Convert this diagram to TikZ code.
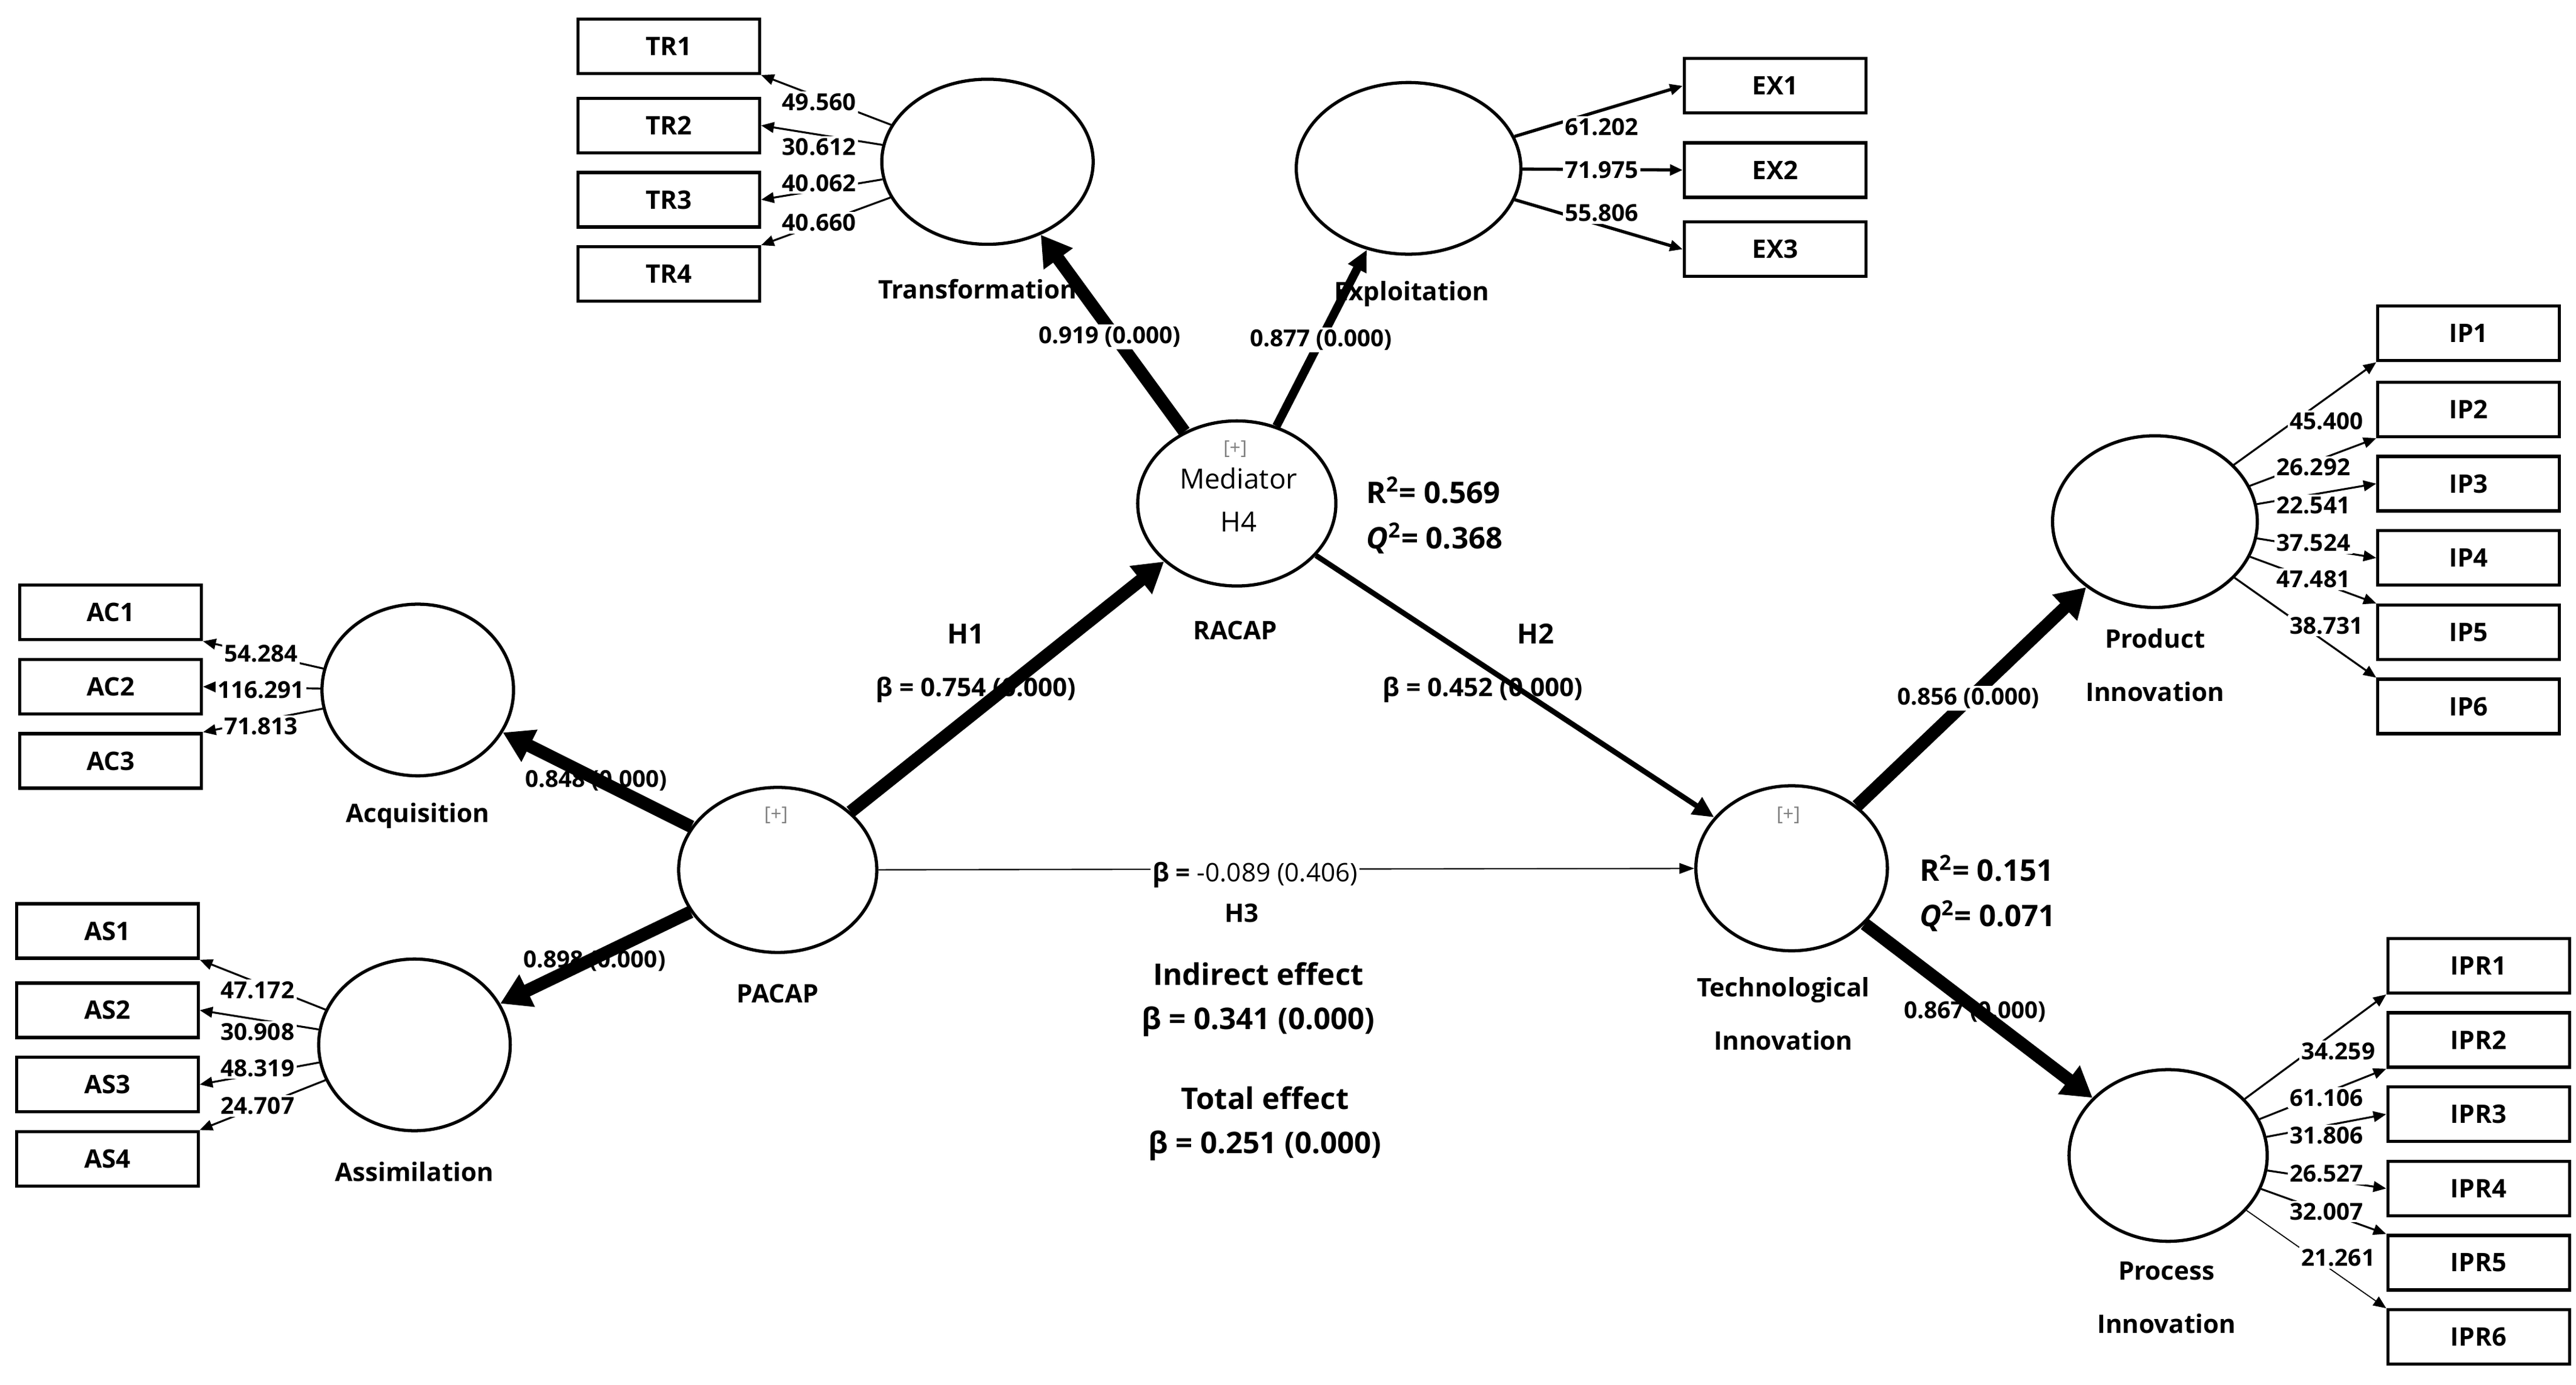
\documentclass[tikz,border=0pt]{standalone}
\usepackage{fontspec}
\setmainfont{Open Sans}
\usetikzlibrary{arrows.meta}
\begin{document}
\begin{tikzpicture}[x=0.02727cm,y=-0.02727cm,
  box/.style={draw,line width=1.5pt,minimum width=110*0.02727cm,minimum height=33*0.02727cm,inner sep=0pt,font=\fontsize{12}{14}\selectfont\bfseries},
  lat/.style={draw,ellipse,line width=1.5pt,inner sep=0pt},
  lab/.style={font=\fontsize{12}{14}\selectfont\bfseries,align=center},
  num/.style={font=\fontsize{11}{13}\selectfont\bfseries,inner sep=1pt},
  big/.style={font=\fontsize{14}{16}\selectfont\bfseries},
  ind/.style={line width=0.9pt,-{Triangle[length=6pt,width=5pt]}},
  thick/.style={line width=6pt,-{Triangle[length=14pt,width=16pt]}},
  mid/.style={line width=2.5pt,-{Triangle[length=10pt,width=9pt]}},
  thin/.style={line width=0.6pt,-{Triangle[length=7pt,width=5pt]}},
  plus/.style={font=\fontsize{9}{10}\selectfont\rmfamily,text=gray}]
\useasboundingbox (0,0) rectangle (1560,839);
\usetikzlibrary{shapes.geometric}
% boxes
\foreach \n/\y in {1/28,2/76,3/121,4/166}{\node[box] (tr\n) at (405,\y) {TR\n};}
\foreach \n/\y in {1/52,2/103,3/151}{\node[box] (ex\n) at (1075,\y) {EX\n};}
\foreach \n/\y in {1/371,2/416,3/461}{\node[box] (ac\n) at (67,\y) {AC\n};}
\foreach \n/\y in {1/564,2/612,3/657,4/702}{\node[box] (as\n) at (65,\y) {AS\n};}
\foreach \n/\y in {1/202,2/248,3/293,4/338,5/383,6/428}{\node[box] (ip\n) at (1495,\y) {IP\n};}
\foreach \n/\y in {1/585,2/630,3/675,4/720,5/765,6/810}{\node[box] (ipr\n) at (1501,\y) {IPR\n};}
% latent
\node[lat,minimum width=128*0.02727cm,minimum height=100*0.02727cm] (tra) at (598,98) {};
\node[lat,minimum width=136*0.02727cm,minimum height=104*0.02727cm] (exp) at (853,102) {};
\node[lat,minimum width=120*0.02727cm,minimum height=100*0.02727cm] (med) at (749,305) {};
\node[lat,minimum width=116*0.02727cm,minimum height=104*0.02727cm] (acq) at (253,418) {};
\node[lat,minimum width=116*0.02727cm,minimum height=104*0.02727cm] (asm) at (251,633) {};
\node[lat,minimum width=120*0.02727cm,minimum height=100*0.02727cm] (pac) at (471,527) {};
\node[lat,minimum width=116*0.02727cm,minimum height=100*0.02727cm] (tec) at (1085,526) {};
\node[lat,minimum width=124*0.02727cm,minimum height=104*0.02727cm] (pro) at (1305,316) {};
\node[lat,minimum width=120*0.02727cm,minimum height=104*0.02727cm] (prc) at (1313,700) {};
% latent labels
\node[lab] (ltra) at (592,175) {Transformation};
\node[lab] (lexp) at (855,178) {Exploitation};
\node[plus] (pm) at (748,272) {[+]};
\node[font=\fontsize{13}{15}\selectfont] (mtx) at (750,290) {Mediator};
\node[font=\fontsize{13}{15}\selectfont] (h4) at (750,316) {H4};
\node[lab] (lrac) at (748,382) {RACAP};
\node[lab] (lacq) at (253,494) {Acquisition};
\node[lab] (lasm) at (251,710) {Assimilation};
\node[plus] (pp) at (470,494) {[+]};
\node[lab] (lpac) at (471,602) {PACAP};
\node[plus] (pt) at (1083,494) {[+]};
\node[lab,font=\fontsize{12}{25}\selectfont\bfseries] (ltec) at (1080,614) {Technological\\Innovation};
\node[lab,font=\fontsize{12}{25}\selectfont\bfseries] (lpro) at (1305,403) {Product\\Innovation};
\node[lab,font=\fontsize{12}{25}\selectfont\bfseries] (lprc) at (1312,786) {Process\\Innovation};
\node[big,anchor=west] (r1) at (823,297) {R\textsuperscript{2}= 0.569};
\node[big,anchor=west] (q1) at (823,326) {\textit{Q}\textsuperscript{2}= 0.368};
\node[big,anchor=west] (r2) at (1158,526) {R\textsuperscript{2}= 0.151};
\node[big,anchor=west] (q2) at (1158,555) {\textit{Q}\textsuperscript{2}= 0.071};
% structural paths
\draw[thin] (pac) -- (tec);
\draw[thick] (med) -- (tra);
\draw[mid,line width=4pt] (med) -- (exp);
\draw[thick] (pac) -- (med);
\draw[mid] (med) -- (tec);
\draw[thick] (pac) -- (acq);
\draw[thick] (pac) -- (asm);
\draw[thick] (tec) -- (pro);
\draw[thick] (tec) -- (prc);
\node[num,fill=white] (l1) at (672,204) {0.919 (0.000)};
\node[num,fill=white] (l2) at (800,206) {0.877 (0.000)};
\node[big,font=\fontsize{13}{15}\selectfont\bfseries] (h1) at (585,384) {H1};
\node[num,font=\fontsize{12}{14}\selectfont\bfseries] (b1) at (591,418) {β = 0.754 (0.000)};
\node[big,font=\fontsize{13}{15}\selectfont\bfseries] (h2) at (930,384) {H2};
\node[num,font=\fontsize{12}{14}\selectfont\bfseries] (b2) at (898,418) {β = 0.452 (0.000)};
\node[num] (l3) at (361,473) {0.848 (0.000)};
\node[num] (l4) at (360,582) {0.898 (0.000)};
\node[num,fill=white] (l5) at (1192,423) {0.856 (0.000)};
\node[num] (l6) at (1196,613) {0.867 (0.000)};
\node[num,font=\fontsize{12}{14}\selectfont\bfseries,fill=white] (b3) at (760,530) {β = \textmd{-0.089 (0.406)}};
\node[num,font=\fontsize{12}{14}\selectfont\bfseries] (h3) at (752,553) {H3};
\node[big] (ie) at (762,590) {Indirect effect};
\node[big] (ieb) at (762,619) {β = 0.341 (0.000)};
\node[big] (te) at (766,665) {Total effect};
\node[big] (teb) at (766,694) {β = 0.251 (0.000)};
% indicator loadings
\draw[ind] (tra) -- (tr1.south east);
\draw[ind] (tra) -- (tr2.east);
\draw[ind] (tra) -- (tr3.east);
\draw[ind] (tra) -- (tr4.north east);
\node[num,fill=white] at (496,62) {49.560};
\node[num,fill=white] at (496,89) {30.612};
\node[num,fill=white] at (496,111) {40.062};
\node[num,fill=white] at (496,135) {40.660};
\draw[ind,line width=1.5pt] (exp) -- (ex1.west);
\draw[ind,line width=1.5pt] (exp) -- (ex2.west);
\draw[ind,line width=1.5pt] (exp) -- (ex3.west);
\node[num,fill=white] at (970,77) {61.202};
\node[num,fill=white] at (970,103) {71.975};
\node[num,fill=white] at (970,129) {55.806};
\draw[ind] (acq) -- (ac1.south east);
\draw[ind] (acq) -- (ac2.east);
\draw[ind] (acq) -- (ac3.north east);
\node[num,fill=white] at (158,396) {54.284};
\node[num,fill=white] at (158,418) {116.291};
\node[num,fill=white] at (158,440) {71.813};
\draw[ind] (asm) -- (as1.south east);
\draw[ind] (asm) -- (as2.east);
\draw[ind] (asm) -- (as3.east);
\draw[ind] (asm) -- (as4.north east);
\node[num,fill=white] at (156,600) {47.172};
\node[num,fill=white] at (156,625) {30.908};
\node[num,fill=white] at (156,647) {48.319};
\node[num,fill=white] at (156,670) {24.707};
\draw[ind] (pro) -- (ip1.south west);
\draw[ind] (pro) -- (ip2.south west);
\draw[ind] (pro) -- (ip3.west);
\draw[ind] (pro) -- (ip4.west);
\draw[ind] (pro) -- (ip5.north west);
\draw[ind] (pro) -- (ip6.north west);
\node[num,fill=white] at (1409,255) {45.400};
\node[num,fill=white] at (1401,283) {26.292};
\node[num,fill=white] at (1401,306) {22.541};
\node[num,fill=white] at (1401,329) {37.524};
\node[num,fill=white] at (1401,351) {47.481};
\node[num,fill=white] at (1409,379) {38.731};
\draw[ind] (prc) -- (ipr1.south west);
\draw[ind] (prc) -- (ipr2.south west);
\draw[ind] (prc) -- (ipr3.west);
\draw[ind] (prc) -- (ipr4.west);
\draw[ind] (prc) -- (ipr5.north west);
\draw[ind,line width=0.5pt] (prc) -- (ipr6.north west);
\node[num,fill=white] at (1416,637) {34.259};
\node[num,fill=white] at (1409,665) {61.106};
\node[num,fill=white] at (1409,688) {31.806};
\node[num,fill=white] at (1409,711) {26.527};
\node[num,fill=white] at (1409,734) {32.007};
\node[num,fill=white] at (1416,762) {21.261};
\end{tikzpicture}
\end{document}
